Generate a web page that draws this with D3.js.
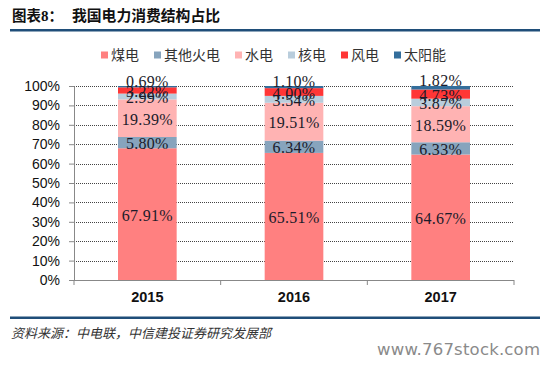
<!DOCTYPE html>
<html><head><meta charset="utf-8">
<script src="https://cdn.jsdelivr.net/npm/d3@7"></script>
<style>
html,body{margin:0;padding:0;background:#fff;}
svg{display:block;}
</style></head>
<body>
<svg id="chart" width="559" height="365"></svg>
<script>
// ---- data ----
const years = ["2015", "2016", "2017"];
const seriesNames = ["煤电", "其他火电", "水电", "核电", "风电", "太阳能"];
const coal    = [67.91, 65.51, 64.67];
const thermal = [5.80, 6.34, 6.33];
const hydro   = [19.39, 19.51, 18.59];
const nuclear = [2.99, 3.54, 3.87];
const wind    = [3.22, 4.00, 4.73];
const solar   = [0.69, 1.10, 1.82];
const yTicks  = [0, 10, 20, 30, 40, 50, 60, 70, 80, 90, 100];
const colors  = ["#FF8080", "#87A4BD", "#FFB3B3", "#B9CDDC", "#FF3636", "#336E9C"];

(function () {
const seriesValues = [coal, thermal, hydro, nuclear, wind, solar];
const rows = years.map((yr, i) => {
  const r = {year: yr};
  seriesNames.forEach((s, k) => r[s] = seriesValues[k][i]);
  return r;
});

const svg = d3.select("#chart");
const pL = 74, pR = 514, pT = 86, pB = 280;

const x = d3.scaleBand().domain(years).range([pL, pR]).paddingInner(0.6).paddingOuter(0.3);
const xb = d3.scaleBand().domain(years).range([pL, pR]);
const y = d3.scaleLinear().domain([0, 100]).range([pB, pT]);

// title
const title = svg.append("text").attr("x", 12).attr("y", 21)
  .attr("font-family", "'Noto Sans CJK SC', sans-serif").attr("font-weight", "bold")
  .attr("font-size", 14.5).attr("fill", "#111");
title.append("tspan").text("图表");
title.append("tspan").attr("font-family", "'Liberation Serif', serif").attr("font-size", 15).text("8");
title.append("tspan").text("：");
svg.append("text").attr("x", 72).attr("y", 21)
  .attr("font-family", "'Noto Sans CJK SC', sans-serif").attr("font-weight", "bold")
  .attr("font-size", 14.8).attr("fill", "#111").text("我国电力消费结构占比");
svg.append("rect").attr("x", 10).attr("y", 29).attr("width", 530).attr("height", 2.5).attr("fill", "#1F4E79");

// legend
let lx = 101;
seriesNames.forEach((s, k) => {
  svg.append("rect").attr("x", lx).attr("y", 51.5).attr("width", 7).attr("height", 7).attr("fill", colors[k]);
  svg.append("text").attr("x", lx + 10).attr("y", 60)
    .attr("font-family", "'Noto Sans CJK SC', sans-serif").attr("font-size", 14)
    .attr("fill", "#333").text(s);
  lx += 7 + 3 + 14 * s.length + 15;
});

// gridlines
svg.append("g").selectAll("line").data(yTicks.filter(d => d > 0)).join("line")
  .attr("x1", pL).attr("x2", pR)
  .attr("y1", d => Math.round(y(d)) + 0.5).attr("y2", d => Math.round(y(d)) + 0.5)
  .attr("stroke", "#444").attr("stroke-width", 1).attr("stroke-dasharray", "1,1");

// stacked bars
const stack = d3.stack().keys(seriesNames)(rows);
const layers = svg.append("g").selectAll("g").data(stack).join("g")
  .attr("fill", (d, k) => colors[k]);
layers.selectAll("rect").data(d => d).join("rect")
  .attr("x", d => x(d.data.year))
  .attr("width", x.bandwidth())
  .attr("y", d => y(d[1]))
  .attr("height", d => y(d[0]) - y(d[1]));

// labels
const lastIdx = seriesNames.length - 1;
stack.forEach((layer, k) => {
  svg.append("g").selectAll("text").data(layer).join("text")
    .attr("x", d => x(d.data.year) + x.bandwidth() / 2)
    .attr("y", d => k === lastIdx ? y(d[1]) - 5 : (y(d[0]) + y(d[1])) / 2 + 1)
    .attr("text-anchor", "middle").attr("dominant-baseline", "central")
    .attr("font-family", "'Liberation Serif', serif").attr("font-size", 16)
    .attr("letter-spacing", 0.3)
    .attr("fill", "#1b1b2a")
    .text(d => (d[1] - d[0]).toFixed(2) + "%");
});

// y axis
const yAxis = d3.axisLeft(y).tickValues(yTicks).tickFormat(d => d + "%").tickSize(5).tickPadding(9);
const gy = svg.append("g").attr("transform", `translate(${pL},0)`).call(yAxis);
gy.select(".domain").attr("stroke", "#888");
gy.selectAll(".tick line").attr("stroke", "#888");
gy.selectAll(".tick text").attr("font-family", "'Liberation Sans', Arial, sans-serif")
  .attr("font-size", 14).attr("fill", "#111");

// x axis
const gx = svg.append("g").attr("transform", `translate(0,${pB})`);
gx.append("line").attr("x1", pL).attr("x2", pR).attr("y1", 0.5).attr("y2", 0.5).attr("stroke", "#888");
const bounds = [pL].concat(years.map(yr => xb(yr) + xb.bandwidth()));
gx.selectAll(".tk").data(bounds).join("line").attr("class", "tk")
  .attr("x1", d => d).attr("x2", d => d).attr("y1", 0).attr("y2", 5).attr("stroke", "#888");
gx.selectAll("text").data(years).join("text")
  .attr("x", d => xb(d) + xb.bandwidth() / 2).attr("y", 22)
  .attr("text-anchor", "middle").attr("font-family", "'Liberation Sans', Arial, sans-serif")
  .attr("font-weight", "bold").attr("font-size", 14.5).attr("fill", "#111").text(d => d);

// bottom rule and source
svg.append("rect").attr("x", 10).attr("y", 316.5).attr("width", 530).attr("height", 2.5).attr("fill", "#1F4E79");
svg.append("text").attr("x", 11).attr("y", 338)
  .attr("font-family", "'Noto Sans CJK SC', sans-serif").attr("font-size", 13)
  .attr("font-style", "italic")
  .attr("fill", "#333").text("资料来源：中电联，中信建投证券研究发展部");
svg.append("text").attr("x", 377).attr("y", 355)
  .attr("font-family", "'DejaVu Sans', Verdana, sans-serif").attr("font-size", 16.5)
  .attr("textLength", 163).attr("fill", "#8a8a8a").text("www.767stock.com");
})();
</script>
</body></html>
